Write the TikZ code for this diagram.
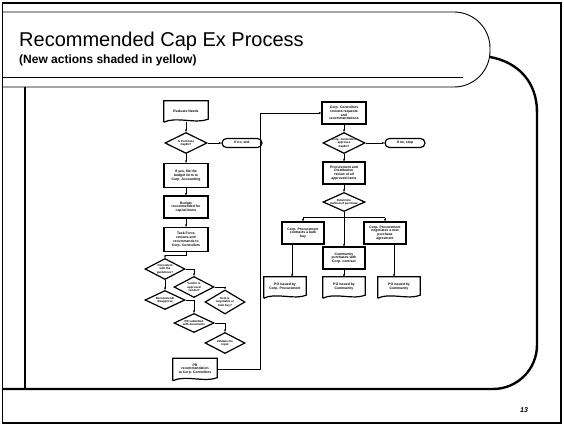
\documentclass[tikz,border=0pt]{standalone}
\usepackage{fontspec}
\setmainfont{Liberation Sans}
\usetikzlibrary{shapes.geometric,arrows.meta}
\begin{document}
\begin{tikzpicture}[x=1pt,y=-1pt,
  tiny/.style={font=\fontsize{3.4}{3.8}\selectfont\bfseries},
  box/.style={tiny, draw, line width=1.2pt, rectangle, minimum width=44pt, minimum height=22pt, inner sep=0.5pt, align=center},
  dec/.style={draw, line width=1.2pt, diamond, minimum width=42pt, minimum height=21pt, inner sep=0pt},
  dtext/.style={font=\fontsize{2.9}{3.3}\selectfont\bfseries, align=center, inner sep=0pt},
  docbox/.style={tiny, rectangle, minimum width=44pt, minimum height=20pt, inner sep=0.5pt, align=center},
  term/.style={tiny, draw, line width=1.2pt, rectangle, rounded corners=4.5pt, minimum width=40pt, minimum height=9pt, inner sep=0.5pt},
  link/.style={line width=0.7pt, -{Stealth[length=2.8pt,width=2.2pt]}},
  plain/.style={line width=0.7pt},
  docline/.style={line width=1.2pt},
  frame/.style={line width=2.4pt},
]
\useasboundingbox (0,0) rectangle (564,426);
\fill[white] (0,0) rectangle (564,426);
% outer border
\draw[line width=1.3pt] (2.5,3) rectangle (561,423);
% title banner
\draw[line width=0.9pt, rounded corners=36pt] (3,12) -- (490,12) -- (490,87) -- (3,87);
\draw[line width=0.7pt] (3,77.5) -- (463,77.5);
\node[anchor=base west, inner sep=0, font=\fontsize{20}{23}\selectfont] (title) at (19,46) {Recommended Cap Ex Process};
\node[anchor=base west, inner sep=0, font=\fontsize{12}{14}\selectfont\bfseries] (subtitle) at (19,63) {(New actions shaded in yellow)};
% thick content frame
\draw[frame] (25,87) -- (25,389);
\draw[frame] (490,57) .. controls (518,62) and (537,82) .. (537,112);
\draw[frame, rounded corners=44pt] (537,110) -- (537,389) -- (3,389);
\node[inner sep=0, font=\fontsize{7}{8}\selectfont\bfseries\itshape] (pg) at (524,410) {13};

% left column
\node[docbox] (ev) at (186,111) {Evaluate Needs};
\node[dec] (d1) at (186,143) {};
\node[dtext] at (d1) {Is Purchase\\CapEx?};
\node[term] (o1) at (242,143) {If no, end};
\node[box, minimum height=24pt] (b2) at (186,175.5) {If yes, file the\\budget form to\\Corp. Accounting};
\node[box] (b3) at (186,207) {Budget\\recommended for\\capital items};
\node[box, minimum height=24pt] (b4) at (186,239.5) {Task Force\\reviews and\\recommends to\\Corp. Controllers};
\node[dec, minimum width=40pt] (d5) at (165,269) {};
\node[dtext] at (d5) {Consistent\\with the\\guidelines?};
\node[dec, minimum width=40pt] (d6) at (194,287) {};
\node[dtext] at (d6) {Vendor is\\approved\\vendor?};
\node[dec, minimum width=40pt, minimum height=19pt] (d7) at (165,300) {};
\node[dtext] at (d7) {Recommend/\\disapprove};
\node[dec, minimum width=40pt, minimum height=24pt] (d8) at (225,302) {};
\node[dtext] at (d8) {Item is\\negotiable or\\bulk buy?};
\node[dec, minimum width=40pt, minimum height=19pt] (d9) at (194,323) {};
\node[dtext] at (d9) {PR submitted\\with documents};
\node[dec, minimum width=40pt] (d10) at (225,343) {};
\node[dtext] at (d10) {Validate the\\input};
\node[docbox, minimum height=21pt] (pr) at (195,369) {PR\\recommendation\\to Corp. Controllers};

% right column
\node[box] (r1) at (344,113) {Corp. Controllers\\reviews requests\\and\\recommendations};
\node[dec] (r2) at (344,143) {};
\node[dtext] at (r2) {Corp. Controllers\\approves\\CapEx?};
\node[term] (o2) at (405,143) {If no, stop};
\node[box, minimum width=42pt] (r3) at (344,173) {Procurement and\\Distribution\\review of all\\approved items};
\node[dec, minimum height=19pt] (r4) at (344,202) {};
\node[dtext] at (r4) {Determine\\method of purchase};
\node[box, minimum width=42pt] (c1) at (303,233) {Corp. Procurement\\contracts a bulk\\buy};
\node[box, minimum width=42pt] (c2) at (344,258) {Community\\purchases with\\Corp. contract};
\node[box, minimum width=42pt] (c3) at (385,233) {Corp. Procurement\\negotiates a new\\purchase\\agreement};
\node[docbox, minimum width=42pt] (p1) at (285,287) {PO issued by\\Corp. Procurement};
\node[docbox, minimum width=42pt] (p2) at (344,287) {PO issued by\\Community};
\node[docbox, minimum width=42pt] (p3) at (399,287) {PO issued by\\Community};

% document outlines
\foreach \n in {ev,pr,p1,p2,p3}{
  \draw[docline] ([yshift=-1pt]\n.south west) -- (\n.north west) -- (\n.north east) -- ([yshift=2pt]\n.south east)
    .. controls ([xshift=-12pt,yshift=-3pt]\n.south east) and ([xshift=12pt,yshift=5pt]\n.south west) .. ([yshift=-1pt]\n.south west);
}

% connectors left
\draw[link] ([yshift=-1pt]ev.south) -- (d1.north);
\draw[link] (d1.east) -- (o1.west);
\draw[link] (d1.south) -- (b2.north);
\draw[link] (b2.south) -- (b3.north);
\draw[link] (b3.south) -- (b4.north);
\draw[link] (b4.south) -- ++(0,3) -| (d5.north);
\draw[link] (d5.east) -| (d6.north);
\draw[link] (d5.south) -- (d7.north);
\draw[link] (d6.east) -| (d8.north);
\draw[link] (d7.east) -| (d9.north);
\draw[link] (d9.east) -| (d10.north);
\draw[link] (pr.east) -- ++(43,0) |- (r1.west);

% connectors right
\draw[link] (r1.south) -- (r2.north);
\draw[link] (r2.east) -- (o2.west);
\draw[link] (r2.south) -- (r3.north);
\draw[link] (r3.south) -- (r4.north);
\draw[link] (r4.south) -- (c2.north);
\coordinate (bus) at (344,217.5);
\draw[plain] (c1.north |- bus) -- (c3.north |- bus);
\draw[link] (c1.north |- bus) -- (c1.north);
\draw[link] (c3.north |- bus) -- (c3.north);
\draw[link] ([xshift=-11pt]c1.south) -- ([xshift=-11pt]c1.south |- p1.north);
\draw[link] (c2.south) -- (p2.north);
\draw[link] ([xshift=9pt]c3.south) -- ([xshift=9pt]c3.south |- p3.north);
\end{tikzpicture}
\end{document}
